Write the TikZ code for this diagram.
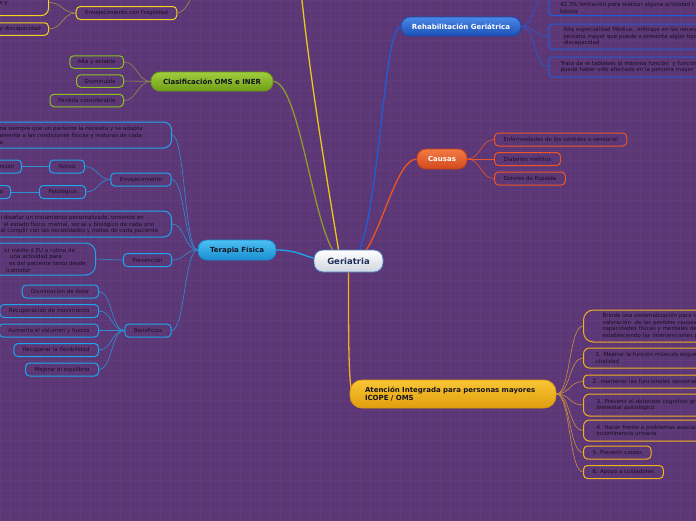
\documentclass[tikz,border=0pt]{standalone}
\usepackage{fontspec}
\setmainfont{DejaVu Sans}
\usetikzlibrary{calc}
\pgfdeclarelayer{back}
\pgfdeclarelayer{links}
\pgfsetlayers{back,links,main}
\definecolor{bgc}{HTML}{5C3776}
\definecolor{gridc}{HTML}{613B7B}
\definecolor{kidtext}{HTML}{1A0E22}
\definecolor{darkT}{HTML}{141420}
\definecolor{blueA}{HTML}{4A8AE8}
\definecolor{blueB}{HTML}{1B4FB5}
\definecolor{blueD}{HTML}{1A4AAA}
\definecolor{blueL}{HTML}{1F5CD6}
\definecolor{oraA}{HTML}{F47A45}
\definecolor{oraB}{HTML}{D2491C}
\definecolor{oraD}{HTML}{C04018}
\definecolor{oraL}{HTML}{EE5525}
\definecolor{yelA}{HTML}{F9C634}
\definecolor{yelB}{HTML}{E09E0E}
\definecolor{yelD}{HTML}{D89A10}
\definecolor{yelL}{HTML}{F2B01C}
\definecolor{yelLn}{HTML}{C89040}
\definecolor{cyA}{HTML}{4CC0F2}
\definecolor{cyB}{HTML}{1A8ED2}
\definecolor{cyD}{HTML}{1A88C8}
\definecolor{cyL}{HTML}{1CA6EE}
\definecolor{cyLn}{HTML}{2E8ED0}
\definecolor{grA}{HTML}{A0CE40}
\definecolor{grB}{HTML}{6E9E14}
\definecolor{grD}{HTML}{6A9A14}
\definecolor{grL}{HTML}{8CC21C}
\definecolor{grLn}{HTML}{8E9A2C}
\definecolor{grKn}{HTML}{8E8A4C}
\definecolor{ylw}{HTML}{F2D21E}
\definecolor{ylwB}{HTML}{E8C81C}
\definecolor{ylwLn}{HTML}{A89048}
\definecolor{cenA}{HTML}{FFFFFF}
\definecolor{cenB}{HTML}{D0D6DE}
\definecolor{cenL}{HTML}{4A7EC0}
\definecolor{cenT}{HTML}{1D2E5A}
\newcommand{\kidfnt}{\fontsize{5.5}{6.7}\selectfont}
\newcommand{\topfnt}{\fontsize{7}{8.4}\selectfont\bfseries}
\tikzset{
  kid/.style={draw, rounded corners=4pt, line width=1pt, text=kidtext, font=\kidfnt, inner xsep=9pt, inner ysep=0pt, minimum height=13pt, align=left},
  bkid/.style={kid, draw=blueL},
  okid/.style={kid, draw=oraL},
  akid/.style={kid, draw=yelL},
  ckid/.style={kid, draw=cyL},
  gkid/.style={kid, draw=grL},
  ykid/.style={kid, draw=ylw},
  ktxt/.style={inner sep=0pt, text=kidtext, font=\kidfnt, align=left},
  topic/.style={rounded corners=9pt, line width=0.8pt, font=\topfnt, inner sep=0pt},
  lnk/.style={line width=0.6pt},
  br/.style={line width=1.3pt},
}
\begin{document}
\begin{tikzpicture}[x=1pt,y=-1pt]
\useasboundingbox (0,0) rectangle (696,520);
\begin{pgfonlayer}{back}
\fill[bgc] (0,0) rectangle (696,520);
\draw[gridc, line width=0.5pt, step=10pt] (0,0) grid (696,520);
\end{pgfonlayer}
\clip (0,0) rectangle (696,520);

% main topics
\node[topic, top color=cenA, bottom color=cenB, draw=cenL, text=cenT, minimum width=69pt, minimum height=22pt, font=\fontsize{8.5}{10}\selectfont\bfseries] (ger) at (348.5,261) {Geriatria};
\node[topic, top color=blueA, bottom color=blueB, draw=blueD, text=white, minimum width=120pt, minimum height=19pt] (reh) at (461,26.5) {Rehabilitación Geriátrica};
\node[topic, top color=oraA, bottom color=oraB, draw=oraD, text=white, minimum width=50pt, minimum height=20pt] (cau) at (442,159) {Causas};
\node[topic, top color=yelA, bottom color=yelB, draw=yelD, text=darkT, text width=176pt, inner xsep=15pt, minimum height=28pt, align=left, rounded corners=12pt] (ate) at (453,394) {Atención Integrada para personas mayores\\ICOPE / OMS};
\node[topic, top color=cyA, bottom color=cyB, draw=cyD, text=darkT, minimum width=78pt, minimum height=20pt] (ter) at (237,250) {Terapia Física};
\node[topic, top color=grA, bottom color=grB, draw=grD, text=darkT, minimum width=122pt, minimum height=19pt] (cla) at (212,81.5) {Clasificación OMS e INER};

% Rehabilitacion children
\node[bkid, anchor=south west, minimum width=200pt, minimum height=46pt] (r1) at (548,16) {};
\node[ktxt, anchor=west] (r1t) at (560,8) {42.3\% limitación para realizar alguna actividad c\\básica};
\node[bkid, anchor=west, text width=180pt, inner xsep=15pt, minimum height=25pt] (r2) at (548,36.5) {Alta especialidad Médica., enfoque en las necesi\\persona mayor que puede o presenta algún tipo\\discapacidad};
\node[bkid, anchor=west, text width=180pt, inner xsep=12pt, minimum height=20pt] (r3) at (548,67) {Trata de re tablebes la máxima función \ y funcion\\puede haber sido afectada en la persona mayor};

% Causas children
\node[okid, anchor=west] (c1) at (494,139.5) {Enfermedades de los sentidos o sensorial};
\node[okid, anchor=west] (c2) at (494,159) {Diabetes mellitus};
\node[okid, anchor=west] (c3) at (494,178.5) {Dolores de Espalda};

% Atencion children
\node[akid, anchor=west, text width=160pt, inner xsep=19pt, minimum height=32pt, rounded corners=10pt] (a1) at (583,326) {Brinda una sistematización para la\\valoración \ de las posibles causas\\capacidades físicas y mentales de\\estableciendo las intervenciones p};
\node[akid, anchor=west, text width=160pt, inner xsep=12pt, minimum height=20pt, rounded corners=6pt] (a2) at (583,358) {1. Mejorar la función músculo esque\\vitalidad};
\node[akid, anchor=west, text width=160pt, inner xsep=9pt] (a3) at (583,381.5) {2. mantener las funcionales sensorial};
\node[akid, anchor=west, text width=160pt, inner xsep=13pt, minimum height=22pt, rounded corners=6pt] (a4) at (583,405) {3. Prevenir el deterioro cognitivo gra\\bienestar psicológico};
\node[akid, anchor=west, text width=160pt, inner xsep=13pt, minimum height=21pt, rounded corners=6pt] (a5) at (583,430.5) {4. Hacer frente a problemas asociad\\incontinencia urinaria};
\node[akid, anchor=west] (a6) at (583,452.5) {5. Prevenir caídas};
\node[akid, anchor=west] (a7) at (583,472) {6. Apoyo a cuidadores};

% Terapia children
\node[ckid, anchor=east, minimum width=300pt, minimum height=26pt, rounded corners=8pt] (t1) at (172,135) {};
\node[ktxt, anchor=west] (t1t) at (-0.5,135.5) {na siempre que un paciente la necesita y se adapta\\amente a las condiciones físicas y motoras de cada\\a};
\node[ckid, minimum width=60pt] (t2) at (141,179.5) {Envejecimiento};
\node[ckid] (t21) at (67,166.5) {Activo};
\node[ckid, anchor=east, minimum width=80pt] (t211) at (22,166.5) {};
\node[ktxt, anchor=west] (t211t) at (-0.5,166.5) {nción};
\node[ckid] (t22) at (62.5,192) {Patológico};
\node[ckid, anchor=east, minimum width=80pt] (t221) at (11,192) {};
\node[ktxt, anchor=west] (t221t) at (-0.5,192) {o};
\node[ckid, anchor=east, minimum width=300pt, minimum height=26pt, rounded corners=8pt] (t3) at (172,224) {};
\node[ktxt, anchor=west] (t3t) at (0.5,224.5) {i diseñar un tratamiento personalizado, teniendo en\\\hspace*{3pt}el estado físico, mental, social y biológico de cada uno\\al cumplir con las necesidades y metas de cada paciente};
\node[ckid] (t4) at (147.5,260) {Prevención};
\node[ckid, anchor=east, minimum width=250pt, minimum height=32pt, rounded corners=10pt] (t41) at (96,259) {};
\node[ktxt, anchor=west] (t41t) at (4,260) {or medio d EU a rutina de\\\hspace*{6pt}una actividad para\\\hspace*{5pt}es del paciente tanto desde\\\hspace*{2pt}icomotor};
\node[ckid] (t5) at (148,330.5) {Beneficios};
\node[ckid, anchor=east] (b1) at (99,291.5) {Disminución de dolor};
\node[ckid, anchor=east] (b2) at (99,311) {Recuperación de movimiento};
\node[ckid, anchor=east] (b3) at (99,330.5) {Aumenta el volumen y fuerza};
\node[ckid, anchor=east] (b4) at (99,350) {Recuperar la flexibilidad};
\node[ckid, anchor=east] (b5) at (99,369.5) {Mejorar el equilibrio};

% Clasificacion children
\node[gkid, anchor=east, inner xsep=8pt, minimum height=12.5pt] (g1) at (124,62) {Alta y estable};
\node[gkid, anchor=east, inner xsep=8pt, minimum height=12.5pt] (g2) at (124,81) {Disminuida};
\node[gkid, anchor=east, inner xsep=8pt, minimum height=12.5pt] (g3) at (124,100.5) {Pérdida considerable};

% yellow branch (parent off the page)
\node[ykid] (y1) at (126.5,13) {Envejecimiento con Fragilidad};
\node[ykid, anchor=south east, minimum width=120pt, minimum height=26pt, rounded corners=7pt] (y11) at (49,16) {};
\node[ktxt, anchor=west] (y11t) at (-0.5,3.5) {s y};
\node[ykid, anchor=east, minimum width=120pt, minimum height=12.5pt] (y12) at (49,29) {};
\node[ktxt, anchor=west] (y12t) at (-0.5,29) {y discapacidad};
\coordinate (yp) at (196,-25);
\coordinate (ytop) at (298,-40);

\begin{pgfonlayer}{links}
\clip (0,0) rectangle (696,520);
% main branches
\draw[br, ylwB] ([xshift=-10pt]ger.north) .. controls (322,150) and (307,60) .. (ytop);
\draw[br, grLn] (cla.east) .. controls (298,82) and (312,215) .. ([xshift=-16pt]ger.north);
\draw[br, blueL] (reh.west) .. controls (384,27) and (380,200) .. ([xshift=11pt]ger.north);
\draw[br, oraL] (cau.west) .. controls (398,159) and (384,222) .. ([xshift=18pt]ger.north);
\draw[br, cyL] (ter.east) .. controls (296,250) and (304,256) .. ([yshift=3pt]ger.west);
\draw[br, yelL] (ger.south) .. controls (348.5,340) and (348.5,385) .. ([xshift=3pt]ate.west);
% sub links
\foreach \k in {r1,r2,r3} \draw[lnk, blueL] (reh.east) .. controls +(14,0) and +(-14,0) .. (\k.west);
\foreach \k in {c1,c2,c3} \draw[lnk, oraL] (cau.east) .. controls +(13,0) and +(-13,0) .. (\k.west);
\foreach \k in {a1,a2,a3,a4,a5,a6,a7} \draw[lnk, yelLn] (ate.east) .. controls +(14,0) and +(-14,0) .. (\k.west);
\foreach \k in {t1,t2,t3,t4,t5} \draw[lnk, cyLn] (ter.west) .. controls +(-13,0) and +(13,0) .. (\k.east);
\foreach \k in {t21,t22} \draw[lnk, cyLn] (t2.west) .. controls +(-12,0) and +(12,0) .. (\k.east);
\draw[lnk, cyLn, line width=1pt] (t21.west) -- (t211.east);
\draw[lnk, cyLn, line width=1pt] (t22.west) -- (t221.east);
\draw[lnk, cyLn] (t4.west) -- (t41.east);
\foreach \k in {b1,b2,b3,b4,b5} \draw[lnk, cyLn] (t5.west) .. controls +(-13,0) and +(13,0) .. (\k.east);
\foreach \k in {g1,g2,g3} \draw[lnk, grKn] (cla.west) .. controls +(-13,0) and +(13,0) .. (\k.east);
\foreach \k in {y11,y12} \draw[lnk, ylwLn] (y1.west) .. controls +(-13,0) and +(13,0) .. (\k.east);
\draw[lnk, ylwLn] (y1.east) .. controls +(9,0) and +(0,16) .. (yp);
\end{pgfonlayer}
\end{tikzpicture}
\end{document}
